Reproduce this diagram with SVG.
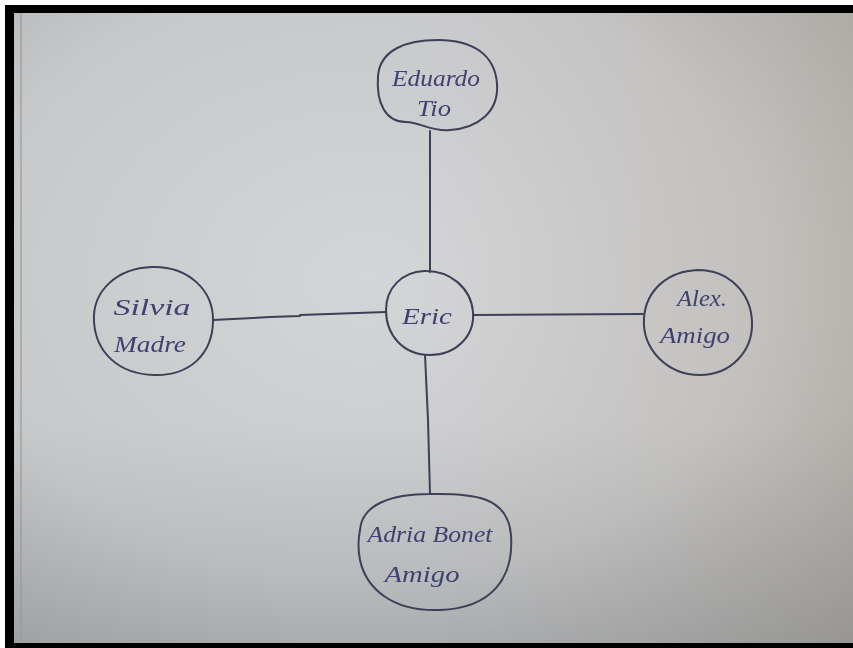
<svg xmlns="http://www.w3.org/2000/svg" width="853" height="648" viewBox="0 0 853 648">
  <defs>
    <radialGradient id="paper" cx="0.42" cy="0.42" r="0.8">
      <stop offset="0" stop-color="#d4d5d7"/>
      <stop offset="0.6" stop-color="#c7c8ca"/>
      <stop offset="1" stop-color="#a8a9ab"/>
    </radialGradient>
    <linearGradient id="warm" x1="0" y1="0" x2="1" y2="0">
      <stop offset="0.5" stop-color="#b8a48c" stop-opacity="0"/>
      <stop offset="1" stop-color="#a89478" stop-opacity="0.22"/>
    </linearGradient>
    <linearGradient id="shade" x1="0" y1="0" x2="0" y2="1">
      <stop offset="0.65" stop-color="#606060" stop-opacity="0"/>
      <stop offset="1" stop-color="#505a60" stop-opacity="0.18"/>
    </linearGradient>
    <filter id="soft" x="-5%" y="-5%" width="110%" height="110%">
      <feGaussianBlur stdDeviation="0.6"/>
    </filter>
  </defs>
  <style>
    .ink { fill: none; stroke: #3c4058; stroke-width: 2; stroke-linecap: round; stroke-linejoin: round; }
    .hand { font-family: "Liberation Serif", "DejaVu Serif", serif; font-style: italic; font-size: 24px; fill: #3e4270; text-anchor: middle; }
  </style>

  <!-- page frame and paper -->
  <rect x="0" y="0" width="853" height="648" fill="#ffffff"/>
  <rect x="5" y="5" width="848" height="643" fill="#000000"/>
  <rect x="14" y="13" width="839" height="630" fill="url(#paper)"/>
  <rect x="14" y="13" width="839" height="630" fill="url(#warm)"/>
  <rect x="14" y="13" width="839" height="630" fill="url(#shade)"/>
  <line x1="21" y1="13" x2="21" y2="643" stroke="#9a9a9a" stroke-width="2" opacity="0.6"/>

  <g filter="url(#soft)">
    <!-- connectors -->
    <g id="connectors" class="ink">
      <path d="M430 131 L430 272"/>
      <path d="M213 320 L270 317 L300 316 L300 315 L386 312"/>
      <path d="M473 315 L643 314"/>
      <path d="M425 355 L428 420 L430 494"/>
    </g>

    <g id="node-eduardo">
      <path class="ink" d="M378 76 C380 50 406 40 438 40 C472 40 495 54 497 84 C499 112 478 128 450 130 C432 132 420 122 406 122 C386 122 376 104 378 76 Z"/>
      <text class="hand" x="436" y="86" textLength="88" lengthAdjust="spacingAndGlyphs">Eduardo</text>
      <text class="hand" x="434" y="116" textLength="34" lengthAdjust="spacingAndGlyphs">Tio</text>
    </g>

    <g id="node-eric">
      <path class="ink" d="M386 310 C386 288 402 272 424 271 C450 270 471 288 473 312 C475 336 456 355 430 355 C404 355 386 336 386 310 Z"/>
      <text class="hand" x="427" y="324" textLength="50" lengthAdjust="spacingAndGlyphs">Eric</text>
    </g>

    <g id="node-silvia">
      <path class="ink" d="M94 322 C92 290 118 268 152 267 C188 266 214 290 213 322 C212 354 190 376 154 375 C118 374 96 352 94 322 Z"/>
      <text class="hand" x="152" y="315" textLength="77" lengthAdjust="spacingAndGlyphs">Silvia</text>
      <text class="hand" x="150" y="352" textLength="72" lengthAdjust="spacingAndGlyphs">Madre</text>
    </g>

    <g id="node-alex">
      <path class="ink" d="M644 318 C646 290 668 271 698 270 C728 270 751 292 752 322 C753 352 730 375 700 375 C668 375 642 350 644 318 Z"/>
      <text class="hand" x="702" y="306" textLength="50" lengthAdjust="spacingAndGlyphs">Alex.</text>
      <text class="hand" x="695" y="343" textLength="70" lengthAdjust="spacingAndGlyphs">Amigo</text>
    </g>

    <g id="node-adria">
      <path class="ink" d="M360 530 C362 504 392 494 430 494 C472 493 508 496 511 535 C514 578 492 608 440 610 C392 612 366 588 360 560 C358 550 358 540 360 530 Z"/>
      <text class="hand" x="430" y="542" textLength="125" lengthAdjust="spacingAndGlyphs">Adria Bonet</text>
      <text class="hand" x="422" y="582" textLength="75" lengthAdjust="spacingAndGlyphs">Amigo</text>
    </g>
  </g>
</svg>
